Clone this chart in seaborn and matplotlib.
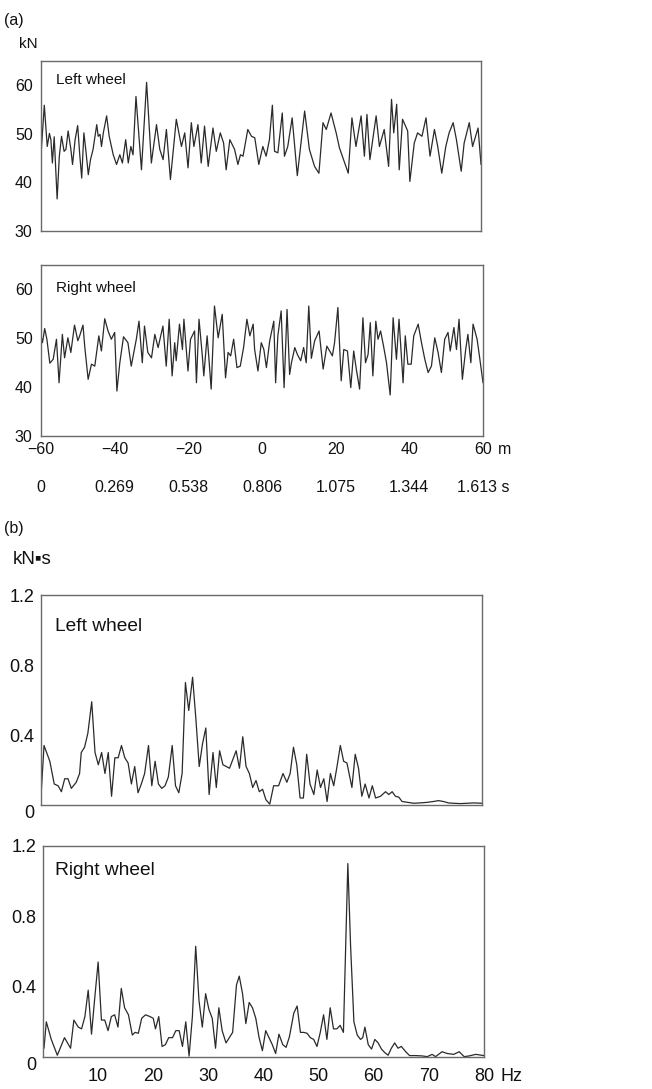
import numpy as np
import pandas as pd
import matplotlib
matplotlib.use("Agg")
import matplotlib.pyplot as plt
import matplotlib.transforms as mtransforms
import seaborn as sns

# ---------------- data ----------------
# (a) dynamic wheel load vs distance
left_dist = [-60.0, -59.1, -58.3, -57.7, -57.3, -56.9, -56.4, -55.6, -55.0, -54.4, -53.7, -53.2,
             -52.6, -51.9, -51.4, -50.7, -50.0, -49.4, -48.9, -48.3, -47.7, -47.1, -46.5, -45.8,
             -44.8, -44.4, -43.9, -43.5, -43.0, -42.1, -41.4, -40.8, -40.3, -39.4, -38.5, -37.8,
             -36.9, -36.2, -35.5, -34.9, -34.1, -32.6, -31.2, -29.9, -28.5, -27.6, -26.7, -25.8,
             -24.7, -23.1, -21.7, -20.8, -19.9, -19.0, -18.3, -17.2, -16.3, -15.4, -14.4, -13.1,
             -12.2, -11.1, -10.2, -9.5, -8.5, -7.2, -6.3, -5.6, -4.9, -3.6, -2.6, -1.7,
             -0.6, 0.5, 1.4, 2.3, 3.1, 3.7, 4.6, 5.8, 6.4, 7.3, 8.5, 9.9,
             11.0, 11.9, 13.2, 14.6, 15.8, 16.9, 17.8, 19.1, 20.5, 21.4, 22.5, 23.8,
             24.8, 25.9, 27.3, 28.2, 28.9, 29.7, 31.4, 32.3, 33.6, 34.8, 35.6, 36.2,
             37.0, 37.7, 38.6, 40.0, 40.6, 41.8, 42.7, 43.9, 45.0, 46.1, 47.3, 48.2,
             49.3, 50.4, 51.3, 52.4, 53.3, 54.6, 55.4, 56.8, 57.7, 59.2, 60.0]
left_load = [45.7, 55.9, 47.4, 50.1, 48.8, 44.0, 49.4, 36.6, 45.4, 49.5, 46.4, 46.8,
             50.6, 47.1, 43.7, 48.8, 51.7, 45.4, 40.9, 50.2, 46.1, 41.6, 44.7, 46.8,
             51.9, 49.5, 49.9, 47.4, 50.2, 53.7, 49.5, 47.4, 45.7, 43.7, 45.7, 44.0,
             48.8, 44.0, 47.4, 45.7, 57.7, 42.6, 60.6, 44.0, 51.9, 46.8, 44.7, 50.9,
             40.6, 53.0, 47.4, 50.2, 43.0, 52.3, 47.4, 51.9, 44.0, 51.6, 43.3, 51.2,
             46.4, 50.2, 48.1, 42.6, 48.8, 46.8, 43.7, 45.7, 45.4, 50.9, 49.5, 49.2,
             43.7, 47.4, 45.4, 48.8, 55.9, 46.4, 46.1, 54.3, 45.4, 47.4, 53.3, 41.4,
             48.8, 54.7, 46.8, 43.3, 41.9, 52.3, 50.9, 54.3, 50.2, 47.1, 44.7, 41.9,
             53.3, 47.4, 53.7, 45.4, 54.0, 44.7, 53.7, 47.4, 50.9, 43.3, 57.1, 50.2,
             56.1, 42.6, 53.0, 50.6, 40.2, 48.1, 50.2, 49.5, 53.3, 45.4, 50.9, 47.4,
             41.9, 47.4, 50.2, 52.3, 48.8, 42.3, 48.1, 52.3, 47.4, 51.2, 43.7]

right_dist = [-60.0, -59.6, -59.0, -58.4, -57.6, -56.7, -55.8, -55.1, -54.2, -53.6, -52.7, -51.9,
              -50.9, -50.0, -49.5, -48.6, -48.1, -47.2, -46.3, -45.4, -44.3, -43.6, -42.7, -41.8,
              -40.9, -40.0, -39.4, -38.6, -37.6, -36.4, -35.5, -34.1, -33.4, -32.5, -31.9, -31.0,
              -30.0, -29.1, -28.2, -26.9, -26.0, -25.2, -24.4, -23.7, -23.3, -22.4, -21.6, -21.2,
              -20.1, -19.4, -18.3, -17.8, -17.1, -16.2, -15.8, -14.9, -14.5, -13.8, -12.9, -11.9,
              -10.8, -9.9, -9.2, -8.5, -7.7, -6.8, -5.9, -5.0, -4.1, -3.3, -2.4, -2.0,
              -1.1, -0.2, 0.5, 1.2, 2.1, 3.2, 3.7, 4.3, 5.2, 6.0, 6.8, 7.5,
              8.0, 8.9, 9.6, 10.5, 11.3, 12.0, 12.7, 13.4, 14.3, 15.5, 16.6, 17.6,
              18.6, 19.1, 19.7, 20.6, 21.5, 22.2, 23.2, 24.1, 24.9, 25.6, 26.5, 27.4,
              28.1, 28.8, 29.4, 30.1, 30.9, 31.5, 32.2, 33.0, 33.8, 34.8, 35.6, 36.5,
              37.2, 38.3, 38.9, 39.6, 40.5, 41.2, 42.4, 43.3, 44.2, 45.1, 46.0, 46.9,
              47.8, 48.7, 49.6, 50.5, 51.1, 52.1, 52.8, 53.5, 54.4, 55.3, 55.9, 56.7,
              57.3, 58.4, 59.1, 60.0]
right_load = [50.5, 49.1, 52.0, 49.8, 44.9, 45.7, 49.8, 40.9, 50.8, 46.0, 50.1, 47.1,
              52.7, 49.5, 50.5, 52.7, 48.1, 41.6, 44.7, 44.3, 50.5, 47.4, 54.0, 51.5,
              49.8, 51.2, 39.2, 45.0, 50.3, 49.1, 44.3, 49.9, 53.5, 45.0, 52.5, 47.1,
              46.0, 50.8, 48.1, 52.5, 44.3, 53.9, 42.3, 49.1, 45.4, 52.9, 47.7, 53.9,
              43.3, 49.8, 51.5, 40.9, 53.9, 46.4, 42.3, 50.5, 46.7, 39.6, 56.6, 50.1,
              54.9, 41.9, 47.1, 46.4, 49.8, 44.0, 44.3, 48.1, 53.9, 50.5, 52.9, 47.7,
              43.3, 49.1, 47.7, 44.0, 49.5, 53.5, 40.9, 50.5, 55.6, 39.9, 55.9, 42.6,
              45.0, 48.1, 46.7, 45.4, 48.1, 45.0, 56.6, 45.9, 49.5, 51.5, 43.7, 48.4,
              47.1, 46.4, 49.1, 56.3, 41.3, 47.7, 47.4, 39.9, 47.4, 43.7, 39.6, 54.2,
              45.0, 46.7, 53.2, 42.3, 53.5, 49.8, 51.5, 48.4, 45.0, 38.4, 54.2, 45.7,
              53.9, 40.9, 50.5, 44.7, 44.7, 50.5, 52.9, 49.1, 45.7, 43.0, 44.3, 50.1,
              47.1, 43.0, 49.8, 51.2, 47.4, 52.2, 47.7, 53.9, 41.6, 47.7, 50.8, 45.0,
              52.9, 49.8, 46.0, 40.9]

dist_ticks = [-60, -40, -20, 0, 20, 40, 60]
dist_labels = ["\u221260", "\u221240", "\u221220", "0", "20", "40", "60"]
time_labels = ["0", "0.269", "0.538", "0.806", "1.075", "1.344", "1.613 s"]

# (b) amplitude spectra
left_freq = [0.0, 0.55, 1.6, 2.4, 3.1, 3.7, 4.3, 4.9, 5.5, 6.4, 7.0, 7.3, 7.9, 8.5, 9.2, 9.8,
             10.4, 11.0, 11.6, 12.2, 12.8, 13.4, 14.0, 14.6, 15.2, 15.8, 16.4, 17.0, 17.6,
             18.2, 18.8, 19.5, 20.1, 20.7, 21.3, 21.9, 22.5, 23.1, 23.8, 24.4, 25.0, 25.6,
             26.2, 26.8, 27.5, 28.1, 28.7, 29.3, 29.9, 30.5, 31.2, 31.8, 32.4, 33.0, 33.6,
             34.2, 34.8, 35.4, 36.0, 36.6, 37.2, 37.8, 38.4, 39.0, 39.6, 40.2, 40.8, 41.5,
             42.2, 43.1, 43.9, 44.6, 45.2, 45.8, 46.4, 47.0, 47.6, 48.2, 48.8, 49.5, 50.1,
             50.7, 51.3, 51.9, 52.5, 53.1, 53.7, 54.3, 54.9, 55.5, 56.4, 57.0, 57.6, 58.2,
             58.8, 59.5, 60.1, 60.7, 61.6, 62.5, 63.1, 63.7, 64.3, 64.9, 65.5, 67.6, 68.8,
             70.0, 71.2, 72.1, 73.0, 73.9, 74.8, 76.1, 77.3, 78.5, 80.0]
left_amp = [0.05, 0.34, 0.25, 0.12, 0.11, 0.076, 0.15, 0.15, 0.095, 0.13, 0.18, 0.30, 0.33,
            0.41, 0.59, 0.30, 0.23, 0.30, 0.18, 0.30, 0.05, 0.27, 0.27, 0.34, 0.27, 0.24,
            0.12, 0.22, 0.07, 0.12, 0.18, 0.34, 0.11, 0.25, 0.12, 0.095, 0.11, 0.16, 0.34,
            0.11, 0.07, 0.18, 0.70, 0.54, 0.73, 0.49, 0.22, 0.35, 0.44, 0.06, 0.30, 0.10,
            0.31, 0.23, 0.22, 0.21, 0.26, 0.31, 0.21, 0.39, 0.22, 0.18, 0.10, 0.14, 0.076,
            0.09, 0.03, 0.005, 0.11, 0.11, 0.18, 0.13, 0.18, 0.33, 0.23, 0.04, 0.04, 0.29,
            0.12, 0.06, 0.20, 0.10, 0.15, 0.02, 0.18, 0.11, 0.22, 0.34, 0.25, 0.24, 0.10,
            0.29, 0.21, 0.05, 0.12, 0.04, 0.11, 0.04, 0.05, 0.076, 0.06, 0.076, 0.05, 0.045,
            0.02, 0.01, 0.012, 0.015, 0.02, 0.025, 0.02, 0.012, 0.01, 0.008, 0.01, 0.012,
            0.01]

right_freq = [0.18, 0.6, 1.5, 2.6, 3.9, 5.0, 5.6, 6.4, 7.0, 7.6, 8.2, 8.8, 9.4, 10.0, 10.6,
              11.2, 11.8, 12.4, 13.0, 13.6, 14.2, 14.8, 15.5, 16.2, 16.7, 17.3, 17.9, 18.6,
              19.4, 20.0, 20.4, 21.0, 21.6, 22.2, 22.8, 23.5, 24.1, 24.7, 25.3, 25.9, 26.5,
              27.1, 27.7, 28.3, 28.9, 29.5, 30.1, 30.7, 31.3, 31.9, 32.5, 33.2, 33.8, 34.4,
              35.1, 35.6, 36.2, 36.8, 37.4, 38.0, 38.6, 39.2, 39.8, 40.4, 41.0, 41.6, 42.2,
              42.8, 43.5, 44.1, 44.7, 45.5, 46.1, 46.7, 47.3, 47.9, 48.5, 49.1, 49.7, 50.3,
              50.9, 51.5, 52.1, 52.7, 53.3, 53.9, 54.5, 55.3, 55.8, 56.4, 57.0, 57.6, 58.0,
              58.4, 59.0, 59.6, 60.2, 60.8, 61.4, 62.0, 62.6, 63.2, 63.8, 64.4, 65.0, 65.8,
              66.5, 67.6, 68.8, 69.7, 70.6, 71.2, 72.4, 73.3, 74.5, 75.5, 76.4, 77.3, 78.5,
              80.0]
right_amp = [0.05, 0.20, 0.10, 0.01, 0.11, 0.05, 0.21, 0.17, 0.16, 0.23, 0.38, 0.13, 0.34,
             0.54, 0.21, 0.21, 0.15, 0.23, 0.24, 0.17, 0.39, 0.28, 0.24, 0.125, 0.14, 0.135,
             0.22, 0.24, 0.23, 0.22, 0.16, 0.23, 0.06, 0.07, 0.11, 0.11, 0.15, 0.15, 0.06,
             0.20, 0.005, 0.23, 0.63, 0.32, 0.17, 0.36, 0.27, 0.22, 0.05, 0.28, 0.15, 0.08,
             0.11, 0.14, 0.41, 0.46, 0.36, 0.19, 0.31, 0.28, 0.22, 0.11, 0.036, 0.15, 0.11,
             0.07, 0.02, 0.13, 0.07, 0.055, 0.115, 0.25, 0.29, 0.14, 0.14, 0.135, 0.11, 0.10,
             0.06, 0.14, 0.24, 0.10, 0.28, 0.16, 0.16, 0.18, 0.14, 1.10, 0.63, 0.20, 0.125,
             0.10, 0.11, 0.17, 0.07, 0.045, 0.10, 0.08, 0.045, 0.025, 0.01, 0.05, 0.08, 0.05,
             0.06, 0.03, 0.008, 0.008, 0.006, 0.002, 0.015, 0.002, 0.03, 0.02, 0.015, 0.03,
             0.002, 0.006, 0.015, 0.008]

freq_ticks = [10, 20, 30, 40, 50, 60, 70, 80]

# ---------------- styling ----------------
sns.set_style("white")
plt.rcParams["font.family"] = ["Liberation Sans", "DejaVu Sans"]
LINE = "#2a2a2a"
SPINE = "#6a6a6a"
TXT = "#111111"

W, H = 652, 1089
fig = plt.figure(figsize=(W / 100, H / 100), dpi=100)


def add_ax(l, t, r, b):
    return fig.add_axes([l / W, 1 - b / H, (r - l) / W, (b - t) / H])


ax1 = add_ax(41, 61, 481, 231)
ax2 = add_ax(41, 265, 483, 436)
ax3 = add_ax(41, 595, 482, 805)
ax4 = add_ax(43, 846, 484, 1057)

dfa = [pd.DataFrame({"x": left_dist, "y": left_load}),
       pd.DataFrame({"x": right_dist, "y": right_load})]
dfb = [pd.DataFrame({"x": left_freq, "y": left_amp}),
       pd.DataFrame({"x": right_freq, "y": right_amp})]

for ax, df in zip([ax1, ax2], dfa):
    sns.lineplot(data=df, x="x", y="y", ax=ax, color=LINE, lw=0.9,
                 estimator=None, sort=False)
    ax.set_xlim(-60, 60)
    ax.set_ylim(30, 65)
    ax.set_yticks([30, 40, 50, 60])
    ax.set_yticks([35, 45, 55], minor=True)
    ax.set_xticks(dist_ticks)
    ax.tick_params(axis="both", which="both", direction="in", length=3,
                   color=SPINE, labelsize=11.5, labelcolor=TXT)
    ax.tick_params(axis="y", pad=6)
    ax.tick_params(axis="x", pad=4)

for ax, df in zip([ax3, ax4], dfb):
    sns.lineplot(data=df, x="x", y="y", ax=ax, color=LINE, lw=0.9,
                 estimator=None, sort=False)
    ax.set_xlim(0, 80)
    ax.set_ylim(0, 1.2)
    ax.set_yticks([0, 0.4, 0.8, 1.2])
    ax.set_yticklabels(["0", "0.4", "0.8", "1.2"])
    ax.set_yticks([0.2, 0.6, 1.0], minor=True)
    ax.set_xticks(freq_ticks)
    ax.tick_params(axis="both", which="both", direction="in", length=3,
                   color=SPINE, labelsize=13, labelcolor=TXT)
    ax.tick_params(axis="y", pad=5)
    ax.tick_params(axis="x", pad=8)
    # '0' label sits slightly below the axis in the reference
    lab0 = ax.get_yticklabels()[0]
    lab0.set_transform(lab0.get_transform() +
                       mtransforms.ScaledTranslation(0, -7 / 100, fig.dpi_scale_trans))

for ax in [ax1, ax2, ax3, ax4]:
    ax.set_xlabel("")
    ax.set_ylabel("")
    for s in ax.spines.values():
        s.set_visible(True)
        s.set_color(SPINE)
        s.set_linewidth(1.0)

ax1.set_xticklabels([])
ax3.set_xticklabels([])
ax2.set_xticklabels(dist_labels)
ax4.set_xticklabels([str(t) for t in freq_ticks])

# units on the last tick labels
ax2.annotate("m", xy=(60, 0), xycoords=("data", "axes fraction"), xytext=(10.5, -4),
             textcoords="offset points", ha="left", va="top", fontsize=11.5, color=TXT)
ax4.annotate("Hz", xy=(80, 0), xycoords=("data", "axes fraction"), xytext=(12, -8),
             textcoords="offset points", ha="left", va="top", fontsize=13, color=TXT)

# time row beneath distance axis
trans = mtransforms.blended_transform_factory(ax2.transData, ax2.transAxes)
for xm, lab in zip(dist_ticks, time_labels):
    ax2.text(xm, -0.304, lab, transform=trans, ha="center", va="center",
             fontsize=11.5, color=TXT)

# panel inner titles
ax1.text(0.034, 0.888, "Left wheel", transform=ax1.transAxes, ha="left", va="center",
         fontsize=11, color=TXT)
ax2.text(0.034, 0.865, "Right wheel", transform=ax2.transAxes, ha="left", va="center",
         fontsize=11, color=TXT)
ax3.text(0.032, 0.852, "Left wheel", transform=ax3.transAxes, ha="left", va="center",
         fontsize=13.8, color=TXT)
ax4.text(0.027, 0.882, "Right wheel", transform=ax4.transAxes, ha="left", va="center",
         fontsize=13.8, color=TXT)

# panel letters and units
fig.text(4 / W, 1 - 20 / H, "(a)", ha="left", va="center", fontsize=11.5, color=TXT)
fig.text(19 / W, 1 - 43.5 / H, "kN", ha="left", va="center", fontsize=11, color=TXT)
fig.text(4 / W, 1 - 528 / H, "(b)", ha="left", va="center", fontsize=11.5, color=TXT)
fig.text(13 / W, 1 - 559 / H, "kN\u25AAs", ha="left", va="center", fontsize=13.5,
         color=TXT)

fig.savefig("out.png", dpi=100, facecolor="white")
